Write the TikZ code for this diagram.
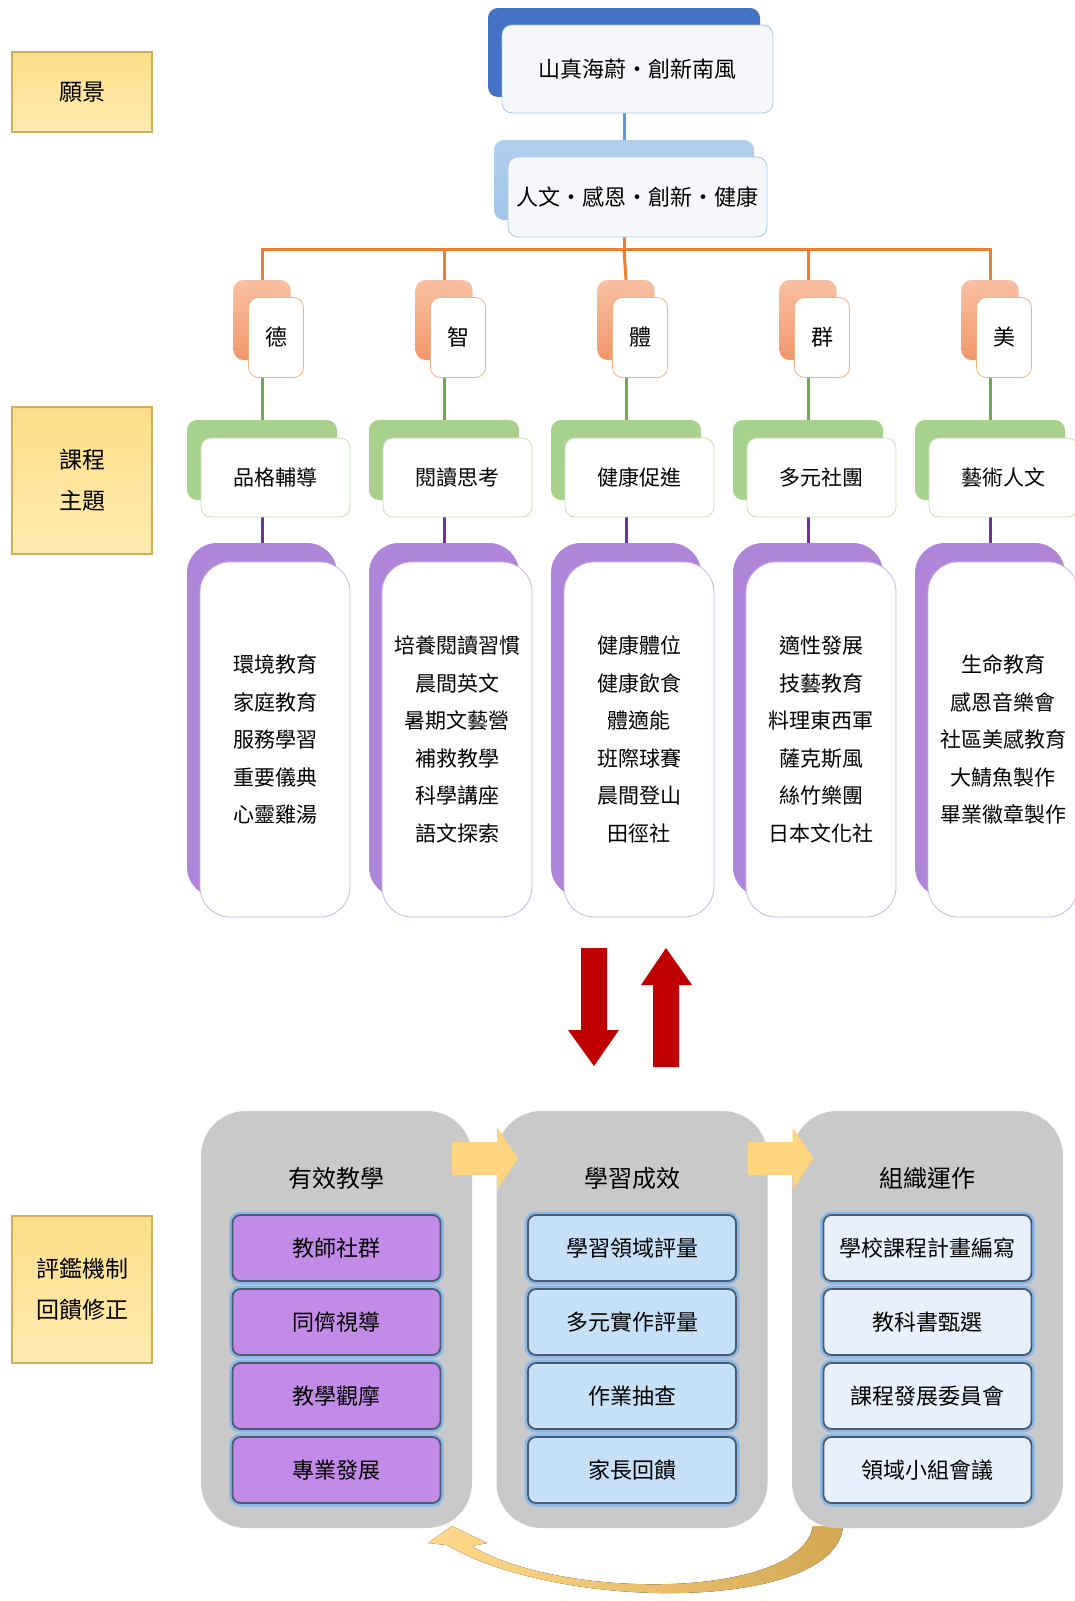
\documentclass[tikz,border=0pt]{standalone}
\usepackage{fontspec}
\newfontfamily\cjk{Noto Sans CJK TC}
\usetikzlibrary{backgrounds}

\definecolor{labeltop}{HTML}{FCDE88}
\definecolor{labelbot}{HTML}{FFEBB0}
\definecolor{labeledge}{HTML}{CFAE5B}
\definecolor{visionblue}{HTML}{4472C4}
\definecolor{missionblue}{HTML}{A4C5E9}
\definecolor{linkblue}{HTML}{5B9BD5}
\definecolor{frontgray}{HTML}{F6F8FB}
\definecolor{lineorange}{HTML}{ED7D31}
\definecolor{orangetop}{HTML}{F8C0A2}
\definecolor{orangebot}{HTML}{F2976A}
\definecolor{orangeedge}{HTML}{F4B183}
\definecolor{linegreen}{HTML}{70AD47}
\definecolor{greenback}{HTML}{A9D18E}
\definecolor{greenedge}{HTML}{C5E0B4}
\definecolor{linepurple}{HTML}{7030A0}
\definecolor{purpleback}{HTML}{AF85DA}
\definecolor{purpleedge}{HTML}{C9B3E6}
\definecolor{colgray}{HTML}{C9C9C9}
\definecolor{itempurple}{HTML}{C28BE7}
\definecolor{itemblue}{HTML}{C6E0F7}
\definecolor{itemlight}{HTML}{E8F1FB}
\definecolor{itemedge}{HTML}{4B5A72}
\definecolor{itemglow}{HTML}{8DB9E6}
\definecolor{flowyellow}{HTML}{FFD47E}
\definecolor{arrowred}{HTML}{C00000}
\definecolor{loopgold}{HTML}{D4A853}
\definecolor{loopyellow}{HTML}{FFD98A}

\begin{document}
\begin{tikzpicture}[x=1pt, y=-1pt]
      \tikzstyle{LBL} = [draw=labeledge, line width=1.2pt, top color=labeltop, bottom color=labelbot, minimum width=140pt, align=center, font=\cjk\fontsize{23}{41}\selectfont]
      \tikzstyle{BACK} = [rectangle, rounded corners=10pt, inner sep=0pt]
      \tikzstyle{FRONT} = [rectangle, rounded corners=10pt, fill=white, line width=0.8pt, align=center, inner sep=0pt, font=\cjk\fontsize{22}{26}\selectfont]
      \tikzstyle{LIST} = [FRONT, rounded corners=30pt, font=\cjk\fontsize{21}{37.5}\selectfont]
      \tikzstyle{COL} = [rectangle, rounded corners=45pt, fill=colgray, minimum width=271pt, minimum height=417pt]
      \tikzstyle{HEAD} = [font=\cjk\fontsize{24}{28}\selectfont]
      \tikzstyle{ITEM} = [rectangle, rounded corners=8pt, draw=itemedge, line width=1.8pt, preaction={draw=itemglow, line width=7pt}, minimum width=208pt, minimum height=66pt, font=\cjk\fontsize{22}{26}\selectfont]
      \tikzstyle{LINK} = [line width=3pt]

      \useasboundingbox (0,0) rectangle (1074,1601);

      %%%%% LABELS

      \node[LBL, minimum height=80pt](l1) at (82, 92) {願景};
      \node[LBL, minimum height=147pt](l2) at (82, 480.5) {課程\\主題};
      \node[LBL, minimum height=147pt](l3) at (82, 1289.5) {評鑑機制\\回饋修正};

      %%%%% VISION

      \node[BACK, fill=visionblue, minimum width=272pt, minimum height=89pt](v0b) at (624, 52.5) {};
      \node[FRONT, draw=missionblue, fill=frontgray, minimum width=271pt, minimum height=88pt](v0) at (637.5, 69) {山真海蔚·創新南風};

      \node[BACK, top color=missionblue!85!white, bottom color=missionblue, minimum width=260pt, minimum height=80pt](v1b) at (624, 180) {};
      \node[FRONT, draw=missionblue, fill=frontgray, minimum width=259pt, minimum height=80pt](v1) at (637.5, 197) {人文·感恩·創新·健康};

      \coordinate (bar) at (624, 249);

      %%%%% THEMES

      \node[BACK, top color=orangetop, bottom color=orangebot, minimum width=57pt, minimum height=80pt](tb1) at ({(262 + 182*0)}, 320) {};
      \node[BACK, top color=orangetop, bottom color=orangebot, minimum width=57pt, minimum height=80pt](tb2) at ({(262 + 182*1)}, 320) {};
      \node[BACK, top color=orangetop, bottom color=orangebot, minimum width=57pt, minimum height=80pt](tb3) at ({(262 + 182*2)}, 320) {};
      \node[BACK, top color=orangetop, bottom color=orangebot, minimum width=57pt, minimum height=80pt](tb4) at ({(262 + 182*3)}, 320) {};
      \node[BACK, top color=orangetop, bottom color=orangebot, minimum width=57pt, minimum height=80pt](tb5) at ({(262 + 182*4)}, 320) {};

      \node[FRONT, draw=orangeedge, minimum width=55pt, minimum height=80pt](t1) at ({(276 + 182*0)}, 337.5) {德};
      \node[FRONT, draw=orangeedge, minimum width=55pt, minimum height=80pt](t2) at ({(276 + 182*1)}, 337.5) {智};
      \node[FRONT, draw=orangeedge, minimum width=55pt, minimum height=80pt](t3) at ({(276 + 182*2)}, 337.5) {體};
      \node[FRONT, draw=orangeedge, minimum width=55pt, minimum height=80pt](t4) at ({(276 + 182*3)}, 337.5) {群};
      \node[FRONT, draw=orangeedge, minimum width=55pt, minimum height=80pt](t5) at ({(276 + 182*4)}, 337.5) {美};

      \node[BACK, fill=greenback, minimum width=150pt, minimum height=80pt](gb1) at ({(262 + 182*0)}, 460) {};
      \node[BACK, fill=greenback, minimum width=150pt, minimum height=80pt](gb2) at ({(262 + 182*1)}, 460) {};
      \node[BACK, fill=greenback, minimum width=150pt, minimum height=80pt](gb3) at ({(262 + 182*2)}, 460) {};
      \node[BACK, fill=greenback, minimum width=150pt, minimum height=80pt](gb4) at ({(262 + 182*3)}, 460) {};
      \node[BACK, fill=greenback, minimum width=150pt, minimum height=80pt](gb5) at ({(262 + 182*4)}, 460) {};

      \node[FRONT, draw=greenedge, minimum width=149pt, minimum height=79pt, font=\cjk\fontsize{21}{26}\selectfont](g1) at ({(275.5 + 182*0)}, 477.5) {品格輔導};
      \node[FRONT, draw=greenedge, minimum width=149pt, minimum height=79pt, font=\cjk\fontsize{21}{26}\selectfont](g2) at ({(275.5 + 182*1)}, 477.5) {閱讀思考};
      \node[FRONT, draw=greenedge, minimum width=149pt, minimum height=79pt, font=\cjk\fontsize{21}{26}\selectfont](g3) at ({(275.5 + 182*2)}, 477.5) {健康促進};
      \node[FRONT, draw=greenedge, minimum width=149pt, minimum height=79pt, font=\cjk\fontsize{21}{26}\selectfont](g4) at ({(275.5 + 182*3)}, 477.5) {多元社團};
      \node[FRONT, draw=greenedge, minimum width=149pt, minimum height=79pt, font=\cjk\fontsize{21}{26}\selectfont](g5) at ({(275.5 + 182*4)}, 477.5) {藝術人文};

      \node[BACK, rounded corners=30pt, fill=purpleback, minimum width=150pt, minimum height=354pt](pb1) at ({(262 + 182*0)}, 720) {};
      \node[BACK, rounded corners=30pt, fill=purpleback, minimum width=150pt, minimum height=354pt](pb2) at ({(262 + 182*1)}, 720) {};
      \node[BACK, rounded corners=30pt, fill=purpleback, minimum width=150pt, minimum height=354pt](pb3) at ({(262 + 182*2)}, 720) {};
      \node[BACK, rounded corners=30pt, fill=purpleback, minimum width=150pt, minimum height=354pt](pb4) at ({(262 + 182*3)}, 720) {};
      \node[BACK, rounded corners=30pt, fill=purpleback, minimum width=150pt, minimum height=354pt](pb5) at ({(262 + 182*4)}, 720) {};

      \node[LIST, draw=purpleedge, minimum width=150pt, minimum height=355pt](p1) at ({(275 + 182*0)}, 739.5) {環境教育\\家庭教育\\服務學習\\重要儀典\\心靈雞湯};
      \node[LIST, draw=purpleedge, minimum width=150pt, minimum height=355pt](p2) at ({(275 + 182*1)}, 739.5) {培養閱讀習慣\\晨間英文\\暑期文藝營\\補救教學\\科學講座\\語文探索};
      \node[LIST, draw=purpleedge, minimum width=150pt, minimum height=355pt](p3) at ({(275 + 182*2)}, 739.5) {健康體位\\健康飲食\\體適能\\班際球賽\\晨間登山\\田徑社};
      \node[LIST, draw=purpleedge, minimum width=150pt, minimum height=355pt](p4) at ({(275 + 182*3)}, 739.5) {適性發展\\技藝教育\\料理東西軍\\薩克斯風\\絲竹樂團\\日本文化社};
      \node[LIST, draw=purpleedge, minimum width=150pt, minimum height=355pt](p5) at ({(275 + 182*4)}, 739.5) {生命教育\\感恩音樂會\\社區美感教育\\大鯖魚製作\\畢業徽章製作};

      %%%%% EDGES
      \begin{pgfonlayer}{background}
      \draw[LINK, draw=linkblue]  (v0b.south) -- (v1b.north);
      \draw[LINK, draw=lineorange]  (v1b.south) -- (bar);
      \draw[LINK, draw=lineorange]  (bar) -| (tb1.north);
      \draw[LINK, draw=lineorange]  (bar) -| (tb2.north);
      \draw[LINK, draw=lineorange]  (bar) -- (tb3.north);
      \draw[LINK, draw=lineorange]  (bar) -| (tb4.north);
      \draw[LINK, draw=lineorange]  (bar) -| (tb5.north);

      \draw[LINK, draw=linegreen]  (tb1.south) -- (gb1.north);
      \draw[LINK, draw=linegreen]  (tb2.south) -- (gb2.north);
      \draw[LINK, draw=linegreen]  (tb3.south) -- (gb3.north);
      \draw[LINK, draw=linegreen]  (tb4.south) -- (gb4.north);
      \draw[LINK, draw=linegreen]  (tb5.south) -- (gb5.north);

      \draw[LINK, draw=linepurple]  (gb1.south) -- (pb1.north);
      \draw[LINK, draw=linepurple]  (gb2.south) -- (pb2.north);
      \draw[LINK, draw=linepurple]  (gb3.south) -- (pb3.north);
      \draw[LINK, draw=linepurple]  (gb4.south) -- (pb4.north);
      \draw[LINK, draw=linepurple]  (gb5.south) -- (pb5.north);
      \end{pgfonlayer}

      %%%%% RED ARROWS
      \fill[arrowred] (581,948) -- (607,948) -- (607,1030) -- (619,1030) -- (594,1066) -- (568,1030) -- (581,1030) -- cycle;
      \fill[arrowred] (653,1067) -- (679,1067) -- (679,985) -- (692,985) -- (666,948) -- (641,985) -- (653,985) -- cycle;

      %%%%% FEEDBACK LOOP
      \fill[left color=loopyellow, right color=loopgold] (843,1526) .. controls (836,1612) and (560,1612) .. (447,1545) -- (428,1543) -- (452,1526) -- (487,1543) -- (472,1546) .. controls (560,1600) and (800,1600) .. (813,1526) -- cycle;

      %%%%% EVALUATION
      \node[COL](c1) at ({(336.5 + 295.5*0)}, 1319.5) {};
      \node[COL](c2) at ({(336.5 + 295.5*1)}, 1319.5) {};
      \node[COL](c3) at ({(336.5 + 295.5*2)}, 1319.5) {};

      \node[HEAD](h1) at ({(336.5 + 295.5*0)}, 1178) {有效教學};
      \node[HEAD](h2) at ({(336.5 + 295.5*1)}, 1178) {學習成效};
      \node[HEAD](h3) at ({(336.5 + 295.5*2)}, 1178) {組織運作};

      \node[ITEM, fill=itempurple](i11) at ({(336.5 + 295.5*0)}, 1248) {教師社群};
      \node[ITEM, fill=itempurple](i12) at ({(336.5 + 295.5*0)}, 1322) {同儕視導};
      \node[ITEM, fill=itempurple](i13) at ({(336.5 + 295.5*0)}, 1396) {教學觀摩};
      \node[ITEM, fill=itempurple](i14) at ({(336.5 + 295.5*0)}, 1470) {專業發展};

      \node[ITEM, fill=itemblue](i21) at ({(336.5 + 295.5*1)}, 1248) {學習領域評量};
      \node[ITEM, fill=itemblue](i22) at ({(336.5 + 295.5*1)}, 1322) {多元實作評量};
      \node[ITEM, fill=itemblue](i23) at ({(336.5 + 295.5*1)}, 1396) {作業抽查};
      \node[ITEM, fill=itemblue](i24) at ({(336.5 + 295.5*1)}, 1470) {家長回饋};

      \node[ITEM, fill=itemlight](i31) at ({(336.5 + 295.5*2)}, 1248) {學校課程計畫編寫};
      \node[ITEM, fill=itemlight](i32) at ({(336.5 + 295.5*2)}, 1322) {教科書甄選};
      \node[ITEM, fill=itemlight](i33) at ({(336.5 + 295.5*2)}, 1396) {課程發展委員會};
      \node[ITEM, fill=itemlight](i34) at ({(336.5 + 295.5*2)}, 1470) {領域小組會議};

      \fill[flowyellow] (452,1142) -- (497,1142) -- (497,1127) -- (518,1158.5) -- (497,1190) -- (497,1175) -- (452,1175) -- cycle;
      \fill[flowyellow, shift={(295.5,0)}] (452,1142) -- (497,1142) -- (497,1127) -- (518,1158.5) -- (497,1190) -- (497,1175) -- (452,1175) -- cycle;
    \end{tikzpicture}
\end{document}
